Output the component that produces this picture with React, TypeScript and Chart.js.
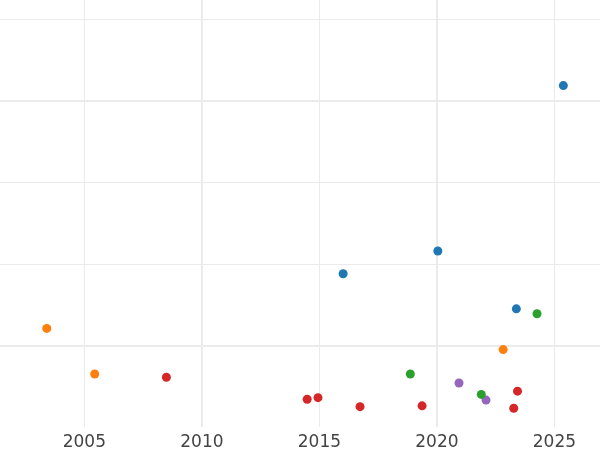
import React, { useEffect, useRef } from "react";
import { Chart, registerables } from "chart.js";

Chart.register(...registerables);

const seriesNames = ["Series A", "Series B", "Series C", "Series D", "Series E"];
const seriesColors = ["#1f77b4", "#ff7f0e", "#2ca02c", "#d62728", "#9467bd"];

const blueX = [2016.01, 2020.04, 2023.38, 2025.38];
const blueY = [0.88, 1.16, 0.45, 3.19];
const orangeX = [2003.4, 2005.44, 2022.82];
const orangeY = [0.21, -0.35, -0.05];
const greenX = [2018.87, 2021.89, 2024.26];
const greenY = [-0.35, -0.6, 0.39];
const redX = [2008.49, 2014.48, 2014.94, 2016.73, 2019.37, 2023.27, 2023.43];
const redY = [-0.39, -0.66, -0.64, -0.75, -0.74, -0.77, -0.56];
const purpleX = [2020.94, 2022.09];
const purpleY = [-0.46, -0.67];

const xTicks = [2005, 2010, 2015, 2020, 2025];
const xMajor = [2010, 2020];
const yTicks = [0, 1, 2, 3, 4];
const yMajor = [0, 3];

const allX = [blueX, orangeX, greenX, redX, purpleX];
const allY = [blueY, orangeY, greenY, redY, purpleY];

export default function App() {
  const ref = useRef<HTMLCanvasElement | null>(null);

  useEffect(() => {
    if (!ref.current) return;
    const datasets = allX.map((xs, i) => ({
      label: seriesNames[i],
      data: xs.map((x, j) => ({ x, y: allY[i][j] })),
      backgroundColor: seriesColors[i],
      borderColor: seriesColors[i],
      borderWidth: 0,
      pointRadius: 4.5,
      pointHoverRadius: 4.5,
    }));
    const chart = new Chart(ref.current, {
      type: "scatter",
      data: { datasets },
      options: {
        animation: false,
        responsive: false,
        layout: { padding: 0, autoPadding: false },
        plugins: { legend: { display: false }, tooltip: { enabled: false } },
        scales: {
          x: {
            type: "linear",
            min: 2001.41,
            max: 2026.94,
            afterBuildTicks: (scale: any) => {
              scale.ticks = xTicks.map((v) => ({ value: v }));
            },
            afterFit: (scale: any) => {
              scale.height = 23;
            },
            border: { display: false },
            grid: {
              drawTicks: false,
              color: "#ebebeb",
              lineWidth: (ctx: any) => (xMajor.includes(ctx.tick?.value) ? 2 : 1),
            },
            ticks: {
              padding: 5.5,
              color: "#444444",
              font: { family: "DejaVu Sans", size: 17 },
              callback: (v: any) => String(v),
            },
          },
          y: {
            type: "linear",
            min: -1.0,
            max: 4.24,
            afterBuildTicks: (scale: any) => {
              scale.ticks = yTicks.map((v) => ({ value: v }));
            },
            border: { display: false },
            grid: {
              drawTicks: false,
              color: "#ebebeb",
              lineWidth: (ctx: any) => (yMajor.includes(ctx.tick?.value) ? 2 : 1),
            },
            ticks: { display: false },
          },
        },
      },
    });
    return () => chart.destroy();
  }, []);

  return (
    <div style={{ position: "absolute", left: 0, top: 0, width: 600, height: 450, background: "#fff" }}>
      <canvas ref={ref} width={600} height={450} />
    </div>
  );
}
